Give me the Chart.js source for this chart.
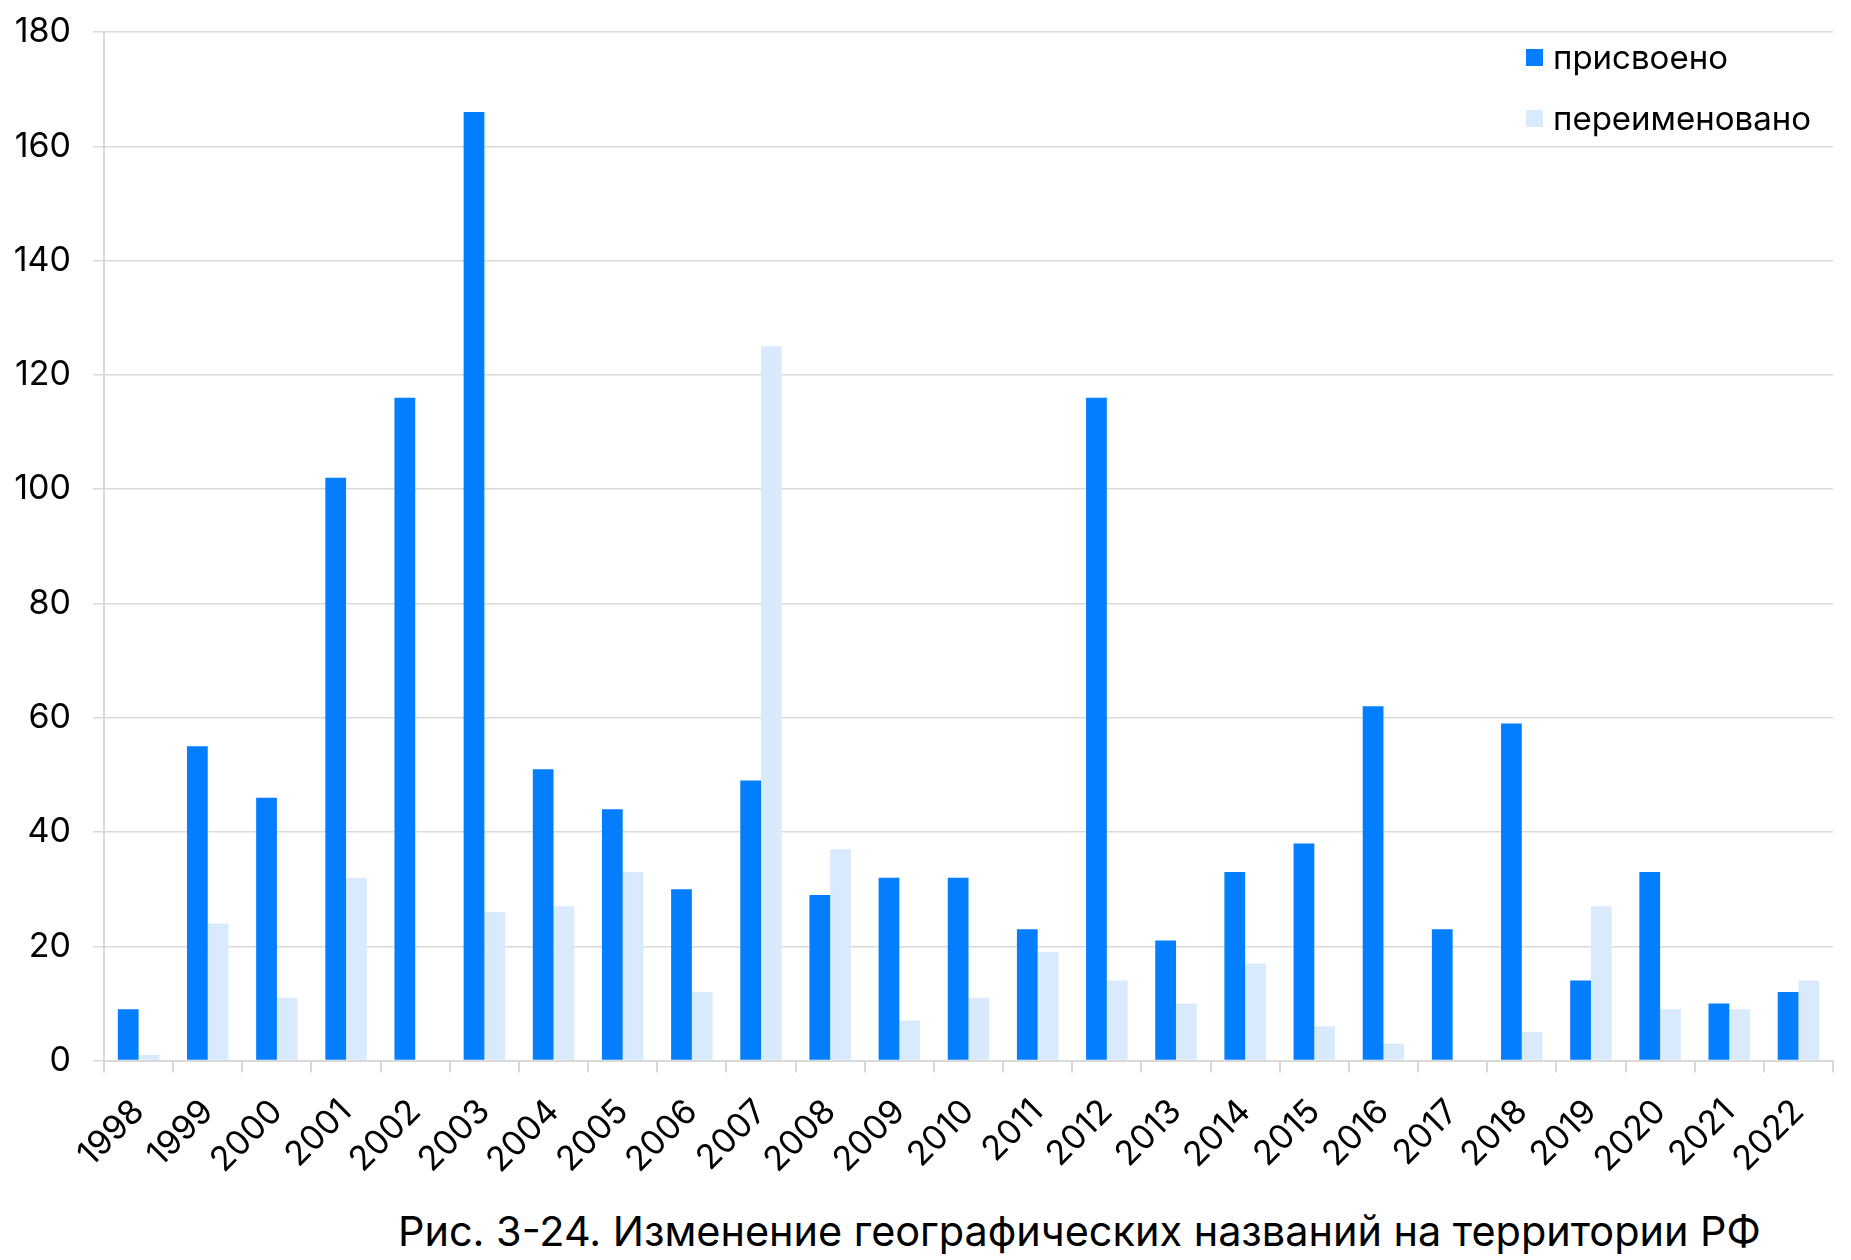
<!DOCTYPE html>
<html lang="ru">
<head>
<meta charset="utf-8">
<script src="https://cdn.jsdelivr.net/npm/chart.js@4/dist/chart.umd.min.js"></script>
<style>
  body { margin: 0; background: #fff; font-family: Inter, sans-serif; }
  #wrap { position: relative; width: 1851px; height: 1260px; }
  #box { position: absolute; left: 0; top: 0; width: 1851px; height: 1200px; }
  #legend { position: absolute; left: 1526px; top: 36px; }
  .item { display: flex; align-items: center; height: 42px; margin-bottom: 19px; font-size: 33px; color: #000; }
  .swatch { width: 17px; height: 17px; margin-right: 10px; }
  #caption { position: absolute; left: 398px; top: 1206px; font-size: 41.4px; color: #000; white-space: nowrap; }
</style>
</head>
<body>
<div id="wrap">
  <div id="box"><canvas id="myChart"></canvas></div>
  <div id="legend"></div>
  <div id="caption">Рис. 3-24. Изменение географических названий на территории РФ</div>
</div>
<script>
const years = ['1998','1999','2000','2001','2002','2003','2004','2005','2006','2007','2008','2009','2010',
  '2011','2012','2013','2014','2015','2016','2017','2018','2019','2020','2021','2022']
const assigned = [9,55,46,102,116,166,51,44,30,49,29,32,32,23,116,21,33,38,62,23,59,14,33,10,12]
const renamed = [1,24,11,32,0,26,27,33,12,125,37,7,11,19,14,10,17,6,3,0,5,27,9,9,14]
const yTicks = [0,20,40,60,80,100,120,140,160,180]

window.onload = ()=> {
  const ctx = document.getElementById('myChart')
  const grey = '#d9d9d9'
  const font = { family: 'Inter', size: 34 }

  const myChart = new Chart(ctx, {
    type: 'bar',
    data: {
      labels: years,
      datasets: [
        { label: 'присвоено', data: assigned, backgroundColor: '#037eff' },
        { label: 'переименовано', data: renamed, backgroundColor: '#d9eafd' }
      ]
    },
    options: {
      responsive: true,
      maintainAspectRatio: false,
      animation: false,
      categoryPercentage: 0.6,
      barPercentage: 1.0,
      layout: { padding: { left: 0, right: 18, top: 32, bottom: 0 } },
      plugins: { legend: { display: false }, tooltip: { enabled: false } },
      scales: {
        x: {
          // rotated labels would otherwise push the plot to the right
          afterFit: (scale)=> { scale.paddingLeft = 0; scale.paddingRight = 0 },
          grid: { offset: true, drawOnChartArea: false, drawTicks: true, tickLength: 12, color: grey, lineWidth: 2 },
          border: { color: grey, width: 2 },
          ticks: { color: '#000', font: font, maxRotation: 45, minRotation: 45, autoSkip: false, padding: 19 }
        },
        y: {
          min: 0,
          max: 180,
          afterBuildTicks: (scale)=> { scale.ticks = yTicks.map((v)=>({ value: v })) },
          afterFit: (scale)=> { scale.width = 104; scale.paddingTop = 0; scale.paddingBottom = 0 },
          grid: { color: grey, lineWidth: 1.5, tickLength: 11 },
          border: { color: grey, width: 2 },
          ticks: { color: '#000', font: font, padding: 22 }
        }
      }
    }
  })

  const legend = document.getElementById('legend')
  myChart.data.datasets.forEach((ds)=>{
    const item = document.createElement('div')
    item.className = 'item'
    const sw = document.createElement('span')
    sw.className = 'swatch'
    sw.style.background = ds.backgroundColor
    const txt = document.createElement('span')
    txt.innerText = ds.label
    item.appendChild(sw)
    item.appendChild(txt)
    legend.appendChild(item)
  })
}
</script>
</body>
</html>
